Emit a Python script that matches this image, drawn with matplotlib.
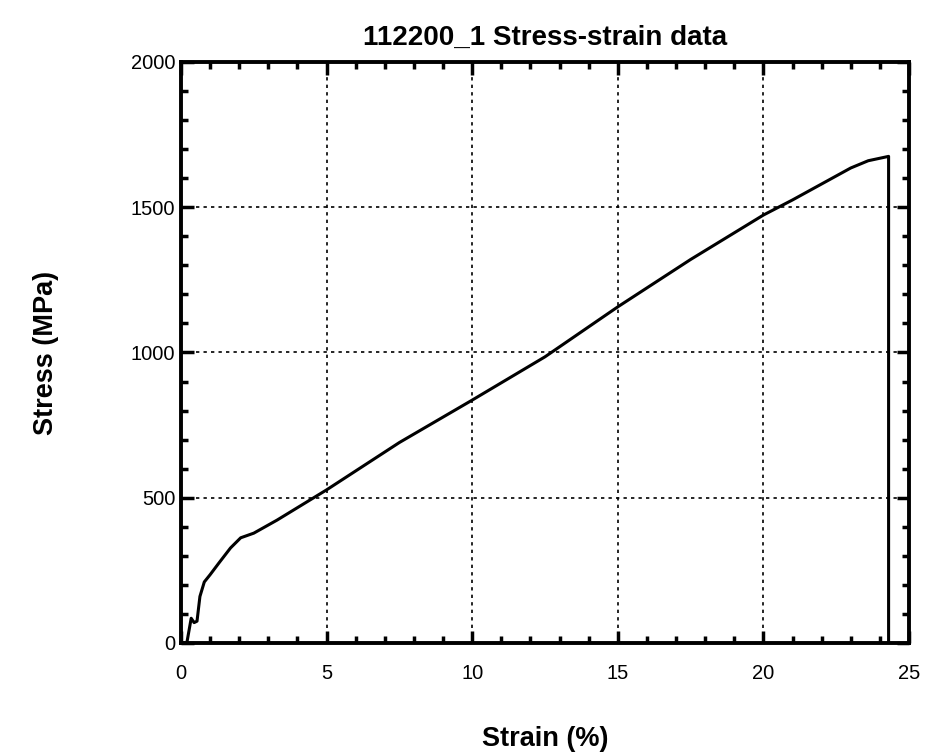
import numpy as np
import matplotlib.pyplot as plt
from matplotlib.ticker import MultipleLocator

plt.rcParams['font.family'] = ['Liberation Sans', 'DejaVu Sans']

# stress-strain curve
strain = [0.0, 0.2, 0.35, 0.45, 0.55, 0.65, 0.8, 1.0, 1.3, 1.7, 2.05, 2.5, 3.3,
          5.0, 7.5, 10.0, 12.5, 15.0, 17.5, 20.0, 21.0, 22.0, 23.0, 23.6, 24.3,
          24.3]
stress = [0.0, 0.0, 85, 70, 75, 160, 210, 235, 275, 327, 362, 378, 423,
          527, 690, 836, 985, 1157, 1320, 1473, 1525, 1580, 1635, 1660, 1675,
          0.0]

fig = plt.figure(figsize=(9.32, 7.52), dpi=100)
ax = fig.add_axes([0.1942, 0.145, 0.7811, 0.7726])

ax.plot(strain, stress, color='black', lw=2.2)

ax.set_xlim(0, 25)
ax.set_ylim(0, 2000)
ax.xaxis.set_major_locator(MultipleLocator(5))
ax.xaxis.set_minor_locator(MultipleLocator(1))
ax.yaxis.set_major_locator(MultipleLocator(500))
ax.yaxis.set_minor_locator(MultipleLocator(100))
ax.tick_params(which='both', direction='in', top=True, right=True, width=2.5, color='black')
ax.tick_params(which='major', length=9, labelsize=14.5)
ax.tick_params(axis='x', which='major', pad=15)
ax.tick_params(axis='y', which='major', pad=4)
ax.tick_params(which='minor', length=5)
ax.grid(which='major', color='black', linestyle=(0, (2, 2.5)), lw=1.2)
for s in ax.spines.values():
    s.set_linewidth(2.8)

ax.set_title('112200_1 Stress-strain data', fontsize=20, fontweight='bold', pad=12)
ax.set_xlabel('Strain (%)', fontsize=19.5, fontweight='bold', labelpad=31)
ax.set_ylabel('Stress (MPa)', fontsize=19.5, fontweight='bold', labelpad=52)

plt.savefig('out.png', dpi=100)
